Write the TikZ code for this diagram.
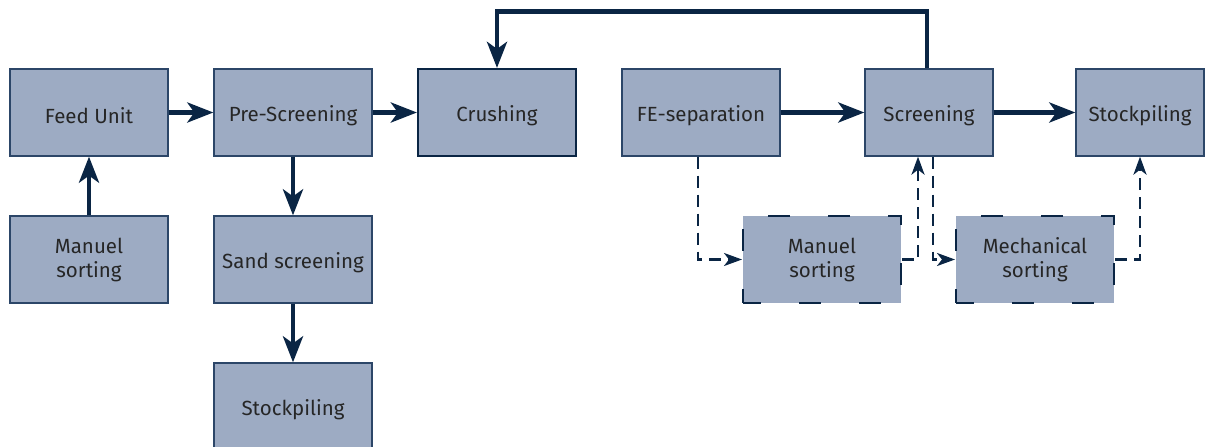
\documentclass[tikz,border=0pt]{standalone}
\usepackage{fontspec}
\setmainfont{Fira Sans}
\usetikzlibrary{arrows.meta,positioning}
\definecolor{boxfill}{RGB}{157,171,195}
\definecolor{boxline}{RGB}{44,70,104}
\definecolor{navy}{RGB}{10,37,68}
\definecolor{txt}{RGB}{38,38,38}

\begin{document}
\begin{tikzpicture}[on grid,
    block/.style={draw=boxline,line width=1.3pt,fill=boxfill,text=txt,
        minimum width=158pt,minimum height=87pt,inner sep=0pt,align=center,
        font=\fontsize{20.5}{24}\selectfont,
        execute at begin node={\rule{0pt}{23pt}}},
    narrow/.style={block,minimum width=128pt},
    dblock/.style={block,draw=navy,line width=2pt,dash pattern=on 22pt off 38pt,dash phase=4pt},
    flow/.style={draw=navy,line width=4.5pt,-{Stealth[length=26pt,width=20pt,inset=7pt]}},
    dflow/.style={draw=navy,line width=2.5pt,dash pattern=on 12pt off 7pt,
        -{Stealth[length=18pt,width=13pt,inset=5pt]}}]
    \useasboundingbox (0pt,0pt) rectangle (1205pt,-447pt);
    \node[block] (feed) at (89pt,-112.5pt) {Feed Unit};
    \node[block] [right=204pt of feed] (pre) {Pre-Screening};
    \node[block,draw=navy,line width=2.2pt] [right=204pt of pre] (crush) {Crushing};
    \node[block] [right=204pt of crush] (fe) {FE-separation};
    \node[narrow] [right=228pt of fe] (scr) {Screening};
    \node[narrow] [right=211pt of scr] (stockr) {Stockpiling};
    \node[block] [below=147pt of feed] (mansort) {Manuel\\sorting};
    \node[block] [below=147pt of pre] (sand) {Sand screening};
    \node[block] [below=147pt of sand] (stockb) {Stockpiling};
    \node[dblock] [below right=147pt and 121pt of fe] (dman) {Manuel\\sorting};
    \node[dblock] [right=213pt of dman] (mech) {Mechanical\\sorting};

    % main flow
    \path[flow] (feed) -- (pre);
    \path[flow] (pre) -- (crush);
    \path[flow] (mansort) -- (feed);
    \path[flow] (pre) -- (sand);
    \path[flow] (sand) -- (stockb);
    \path[flow] (fe) -- (scr);
    \path[flow] (scr) -- (stockr);
    \path[flow] ([xshift=-2pt]scr.north) -- ++(0pt,57pt) -| (crush.north);

    % optional sorting
    \path[dflow] ([xshift=-3pt]fe.south) |- (dman.west);
    \path[dflow] (dman.east) -| ([xshift=-11pt]scr.south);
    \path[dflow] ([xshift=4pt]scr.south) |- (mech.west);
    \path[dflow] (mech.east) -| (stockr.south);
\end{tikzpicture}
\end{document}
